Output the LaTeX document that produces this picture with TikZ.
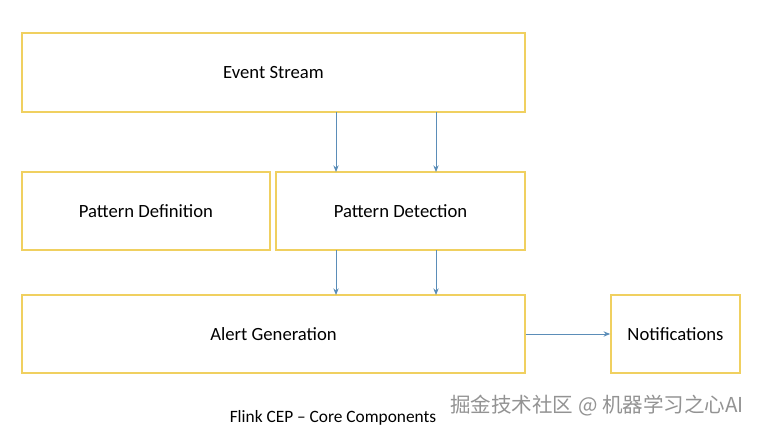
\documentclass[tikz,border=0pt]{standalone}
\usepackage{fontspec}
\setmainfont{Carlito}
\newfontfamily\cjk{Noto Sans CJK SC}
\usetikzlibrary{arrows.meta}
\definecolor{bx}{HTML}{F0D060}
\definecolor{ar}{HTML}{5B8DB8}
\begin{document}
\begin{tikzpicture}[x=0.75pt,y=-0.75pt,
 box/.style={draw=bx,line width=1.2pt,font=\fontsize{14}{16}\selectfont},
 con/.style={draw=ar,line width=0.7pt,-{Stealth[length=5pt,width=4pt]}}]
\useasboundingbox (0,0) rectangle (759,431);
\node[box,minimum width=503*0.75pt,minimum height=79*0.75pt] (es) at (273.5,72.5) {Event Stream};
\node[box,minimum width=248*0.75pt,minimum height=78*0.75pt] (pd) at (146,211) {Pattern Definition};
\node[box,minimum width=249*0.75pt,minimum height=78*0.75pt] (pt) at (400.5,211) {Pattern Detection};
\node[box,minimum width=503*0.75pt,minimum height=78*0.75pt] (ag) at (273.5,334) {Alert Generation};
\node[box,minimum width=129*0.75pt,minimum height=78*0.75pt] (nt) at (675.5,334) {Notifications};
\coordinate (a1) at (336,112); \coordinate (b1) at (336,172);
\coordinate (a2) at (436,112); \coordinate (b2) at (436,172);
\coordinate (c1) at (336,250); \coordinate (d1) at (336,295);
\coordinate (c2) at (436,250); \coordinate (d2) at (436,295);
\draw[con] (a1) -- (b1); \draw[con] (a2) -- (b2);
\draw[con] (c1) -- (d1); \draw[con] (c2) -- (d2);
\draw[con] (ag) -- (nt);
\node[font=\fontsize{13}{15}\selectfont] (cap) at (333,418) {Flink CEP – Core Components};
\node[font=\cjk\fontsize{15.4}{17}\selectfont,text=gray!85,fill=white,fill opacity=0.6,text opacity=1,inner sep=1pt] (wm) at (597,406) {掘金技术社区 @ 机器学习之心AI};
\end{tikzpicture}
\end{document}
